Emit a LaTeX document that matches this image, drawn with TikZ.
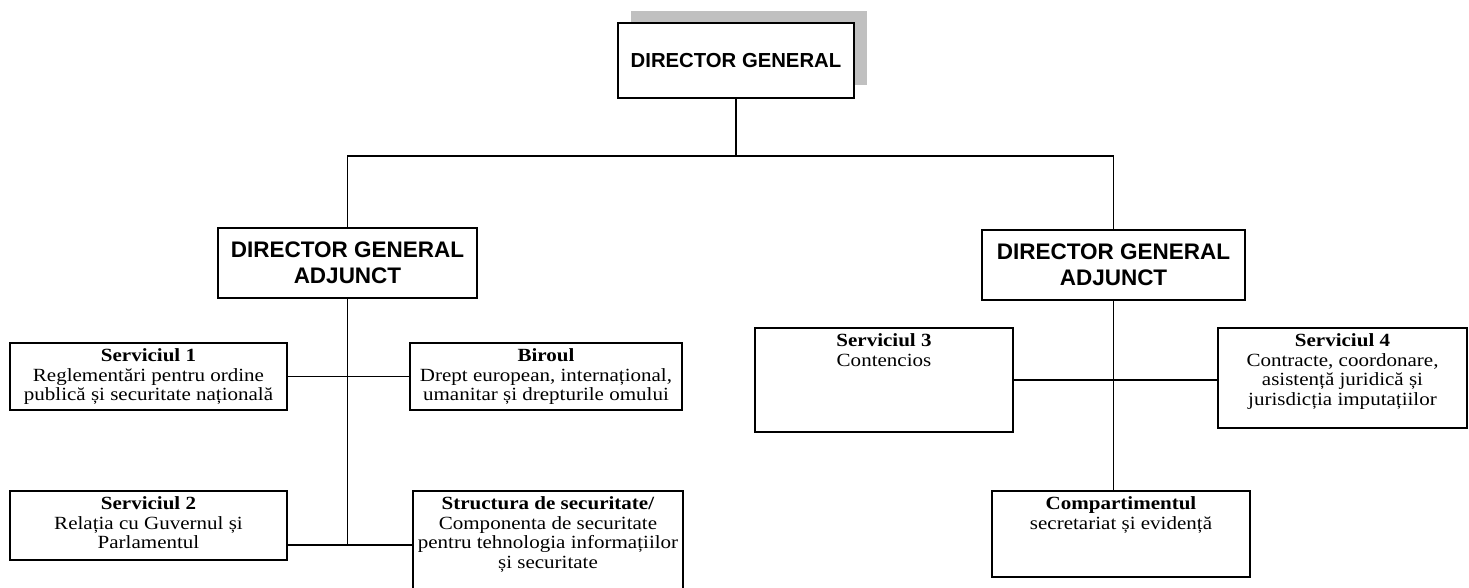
\documentclass[tikz,border=0pt]{standalone}
\usepackage{fontspec}
\setmainfont{Liberation Serif}[FakeStretch=1.13]
\newfontfamily\arialfont{Liberation Sans}
\definecolor{shadowgray}{HTML}{C0C0C0}
\begin{document}
\begin{tikzpicture}[x=1pt,y=-1pt,
  box/.style={draw, line width=1.8pt, inner sep=0pt, rectangle, fill=white},
  ln/.style={line width=1.6pt},
  hd/.style={font=\arialfont\bfseries\fontsize{22.5}{26}\selectfont, align=center},
  txt/.style={font=\fontsize{18.6}{19.8}\selectfont, align=center, inner sep=0pt, anchor=north}]
\useasboundingbox (0,0) rectangle (1469,588);
\clip (0,0) rectangle (1469,588);
% top
\fill[shadowgray] (631,11) rectangle (867,85);
\node[box, minimum width=236, minimum height=75, font=\arialfont\bfseries\fontsize{20.3}{24}\selectfont] (dg) at (736,60.5) {DIRECTOR GENERAL};
\node[box, minimum width=259, minimum height=70, hd] (dga1) at (347.5,263) {DIRECTOR GENERAL\\ADJUNCT};
\node[box, minimum width=263, minimum height=70, hd] (dga2) at (1113.5,265) {DIRECTOR GENERAL\\ADJUNCT};
% left boxes
\node[box, minimum width=277, minimum height=67] (s1) at (148.5,376.5) {};
\node[txt] at ([yshift=-6pt]s1.north) {\textbf{Serviciul 1}\\Reglementări pentru ordine\\publică și securitate națională};
\node[box, minimum width=272, minimum height=67] (bir) at (546,376.5) {};
\node[txt] at ([yshift=-6pt]bir.north) {\textbf{Biroul}\\Drept european, internațional,\\umanitar și drepturile omului};
\node[box, minimum width=277, minimum height=69] (s2) at (148.5,525.5) {};
\node[txt] at ([yshift=-6pt]s2.north) {\textbf{Serviciul 2}\\Relația cu Guvernul și\\Parlamentul};
\node[box, minimum width=270, minimum height=110] (str) at (548,546) {};
\node[txt] at ([yshift=-6pt]str.north) {\textbf{Structura de securitate/}\\Componenta de securitate\\pentru tehnologia informațiilor\\și securitate};
% right boxes
\node[box, minimum width=258, minimum height=104] (s3) at (884,380) {};
\node[txt] at ([yshift=-6pt]s3.north) {\textbf{Serviciul 3}\\Contencios};
\node[box, minimum width=249, minimum height=100] (s4) at (1342.5,378) {};
\node[txt] at ([yshift=-6pt]s4.north) {\textbf{Serviciul 4}\\Contracte, coordonare,\\asistență juridică și\\jurisdicția imputațiilor};
\node[box, minimum width=258, minimum height=86] (comp) at (1121,534) {};
\node[txt] at ([yshift=-6pt]comp.north) {\textbf{Compartimentul}\\secretariat și evidență};
% connectors
\draw[ln] (dg.south) -- ++(0,57) coordinate (j);
\draw[ln] (dga1.north) |- (j) -| (dga2.north);
\coordinate (c2) at (347.5,545);
\draw[ln] (dga1.south) -- (c2);
\draw[ln] (s1.east) -- (bir.west);
\draw[ln] (s2.east |- c2) -- (str.west |- c2);
\draw[ln] (s3.east) -- (s4.west |- s3.east);
\draw[ln] (dga2.south) -- (dga2.south |- comp.north);
\end{tikzpicture}
\end{document}
